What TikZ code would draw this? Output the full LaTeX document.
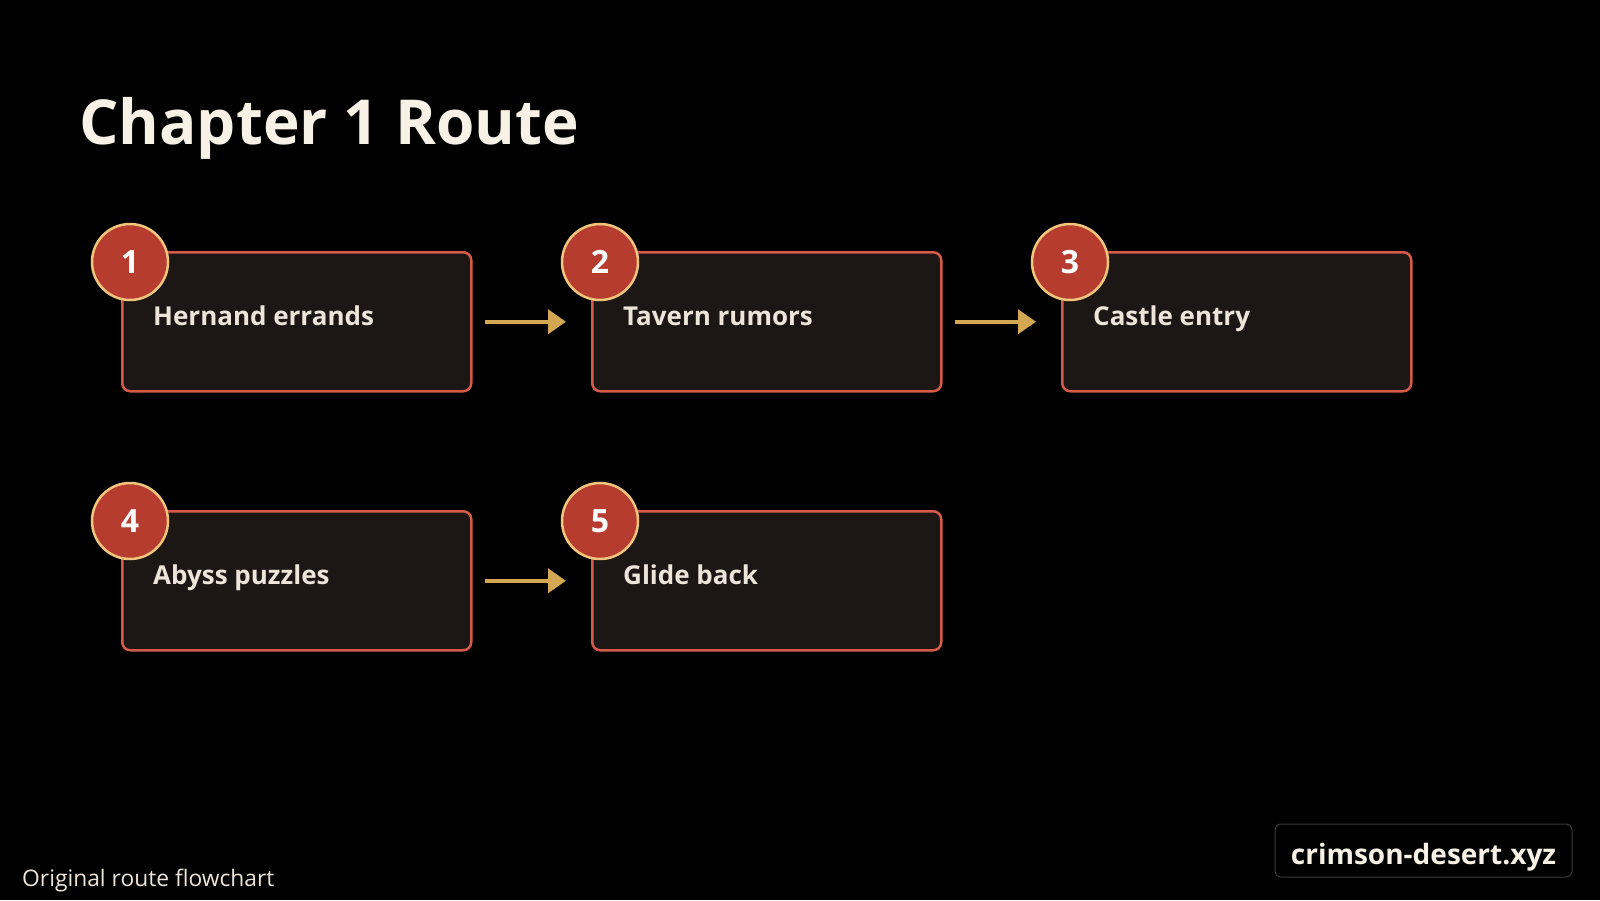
\documentclass[tikz,border=0pt]{standalone}
\usepackage{fontspec}
\setmainfont{Open Sans}
\usetikzlibrary{arrows.meta}
\definecolor{bgc}{HTML}{000000}
\definecolor{boxfill}{HTML}{1C1715}
\definecolor{boxline}{HTML}{D65A4A}
\definecolor{circfill}{HTML}{B73C30}
\definecolor{circline}{HTML}{F2C57C}
\definecolor{arrowc}{HTML}{D4A853}
\definecolor{titlec}{HTML}{F7F1E6}
\definecolor{textc}{HTML}{EDE4DA}
\definecolor{wmline}{HTML}{3A3A3A}
\tikzset{
  stepbox/.style={draw=boxline, line width=2.5pt, fill=boxfill, rounded corners=8pt,
    minimum width=349pt, minimum height=139pt, inner sep=0pt, anchor=north west},
  numcirc/.style={circle, draw=circline, line width=2.5pt, fill=circfill, minimum size=76pt,
    inner sep=0pt, text=white, font=\fontsize{32}{36}\selectfont\bfseries},
  steplabel/.style={anchor=base west, inner sep=0pt, text=textc, font=\fontsize{26}{30}\selectfont\bfseries},
  flowarrow/.style={draw=arrowc, line width=4pt, -{Triangle[length=18pt,width=24pt]},
    shorten <=12pt, shorten >=25pt}
}
\begin{document}
\begin{tikzpicture}[x=1pt,y=-1pt]
\fill[bgc] (0,0) rectangle (1600,900);
\useasboundingbox (0,0) rectangle (1600,900);
\node[anchor=base west, inner sep=0pt, text=titlec, font=\fontsize{62}{70}\selectfont\bfseries] (title) at (79,144) {Chapter 1 Route};
% boxes
\node[stepbox] (b1) at (121,251) {};
\node[stepbox] (b2) at (591,251) {};
\node[stepbox] (b3) at (1061,251) {};
\node[stepbox] (b4) at (121,510) {};
\node[stepbox] (b5) at (591,510) {};
\node[steplabel] (t1) at (153,325) {Hernand errands};
\node[steplabel] (t2) at (623,325) {Tavern rumors};
\node[steplabel] (t3) at (1093,325) {Castle entry};
\node[steplabel] (t4) at (153,584) {Abyss puzzles};
\node[steplabel] (t5) at (623,584) {Glide back};
\node[numcirc] (c1) at (130,262) {1};
\node[numcirc] (c2) at (600,262) {2};
\node[numcirc] (c3) at (1070,262) {3};
\node[numcirc] (c4) at (130,521) {4};
\node[numcirc] (c5) at (600,521) {5};
\draw[flowarrow] (b1.east) -- (b2.west);
\draw[flowarrow] (b2.east) -- (b3.west);
\draw[flowarrow] (b4.east) -- (b5.west);
\node[anchor=base west, inner sep=0pt, text=textc, font=\fontsize{22.8}{26}\selectfont] (foot) at (22,886) {Original route flowchart};
\node[draw=wmline, line width=1pt, rounded corners=6pt, minimum width=297pt, minimum height=53pt,
  inner sep=0pt] (wm) at (1423.5,850.5) {};
\node[text=titlec, font=\fontsize{28}{32}\selectfont\bfseries, inner sep=0pt, anchor=base] (wmt) at ([yshift=-14pt]wm.center) {crimson-desert.xyz};
\end{tikzpicture}
\end{document}
